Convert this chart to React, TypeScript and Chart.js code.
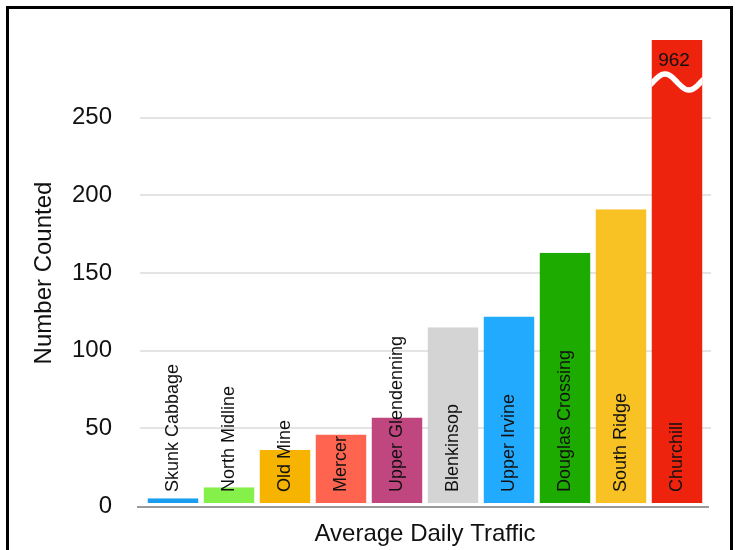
import { useEffect, useRef } from 'react';
import { Chart, registerables } from 'chart.js';

Chart.register(...registerables);

const categories = [
  'Skunk Cabbage',
  'North Midline',
  'Old Mine',
  'Mercer',
  'Upper Glendenning',
  'Blenkinsop',
  'Upper Irvine',
  'Douglas Crossing',
  'South Ridge',
  'Churchill',
];
const counts = [5, 12, 36, 46, 57, 115, 122, 163, 191, 962];
const barColors = [
  '#1a9ff0',
  '#86f04a',
  '#f6b300',
  '#fe6450',
  '#c0467f',
  '#d4d4d4',
  '#22aaff',
  '#1eab00',
  '#f8c124',
  '#ee230e',
];
const yTickValues = [0, 50, 100, 150, 200, 250];
const axisMax = 300;
const xTitle = 'Average Daily Traffic';
const yTitle = 'Number Counted';

const FONT = '"Liberation Sans", Arial, Helvetica, sans-serif';

const decorPlugin = {
  id: 'decor',
  beforeDatasetsDraw(chart: any) {
    const { ctx, chartArea, scales } = chart;
    const y = scales.y;
    ctx.save();
    ctx.strokeStyle = '#e4e4e4';
    ctx.lineWidth = 2;
    yTickValues.forEach((v) => {
      if (v === 0) return;
      const py = Math.round(y.getPixelForValue(v));
      ctx.beginPath();
      ctx.moveTo(chartArea.left - 5, py);
      ctx.lineTo(chartArea.right + 6, py);
      ctx.stroke();
    });
    ctx.restore();
  },
  afterDatasetsDraw(chart: any) {
    const { ctx, chartArea, scales } = chart;
    const y = scales.y;
    const meta = chart.getDatasetMeta(0);
    ctx.save();
    const py0 = y.getPixelForValue(0) + 1;
    ctx.strokeStyle = '#9a9a9a';
    ctx.lineWidth = 2;
    ctx.beginPath();
    ctx.moveTo(chartArea.left - 8, py0);
    ctx.lineTo(chartArea.right + 4, py0);
    ctx.stroke();

    meta.data.forEach((bar: any, i: number) => {
      if (counts[i] > axisMax) {
        const w = bar.width;
        const left = bar.x - w / 2;
        const cy = chartArea.top + 42;
        const peakX = bar.x - 12;
        ctx.save();
        ctx.beginPath();
        ctx.rect(left, chartArea.top, w, 200);
        ctx.clip();
        ctx.strokeStyle = '#ffffff';
        ctx.lineWidth = 5.5;
        ctx.beginPath();
        for (let dx = -3; dx <= w + 3; dx += 1) {
          const px = left + dx;
          const py = cy - 8 * Math.cos(((px - peakX) / 48) * 2 * Math.PI);
          if (dx === -3) ctx.moveTo(px, py);
          else ctx.lineTo(px, py);
        }
        ctx.stroke();
        ctx.restore();

        ctx.save();
        ctx.fillStyle = '#111';
        ctx.font = '19px ' + FONT;
        ctx.textAlign = 'center';
        ctx.textBaseline = 'middle';
        ctx.fillText(String(counts[i]), bar.x - 3, chartArea.top + 21);
        ctx.restore();
      }

      ctx.save();
      ctx.fillStyle = '#111';
      ctx.font = '18px ' + FONT;
      ctx.textAlign = 'left';
      ctx.textBaseline = 'middle';
      ctx.translate(bar.x, py0 - 15);
      ctx.rotate(-Math.PI / 2);
      ctx.fillText(categories[i], 0, 0);
      ctx.restore();
    });
    ctx.restore();
  },
};

export default function App() {
  const canvasRef = useRef<HTMLCanvasElement | null>(null);

  useEffect(() => {
    const canvas = canvasRef.current;
    if (!canvas) return;
    Chart.defaults.font.family = FONT;
    const chart = new Chart(canvas, {
      type: 'bar',
      data: {
        labels: categories,
        datasets: [
          {
            data: counts,
            backgroundColor: barColors,
            borderColor: '#ffffff',
            borderWidth: { top: 0, left: 0, right: 0, bottom: 3 },
            borderSkipped: false,
            inflateAmount: 0,
            categoryPercentage: 1,
            barPercentage: 0.91,
          } as any,
        ],
      },
      options: {
        responsive: false,
        animation: false,
        layout: { padding: { top: 40, right: 31, bottom: 0, left: 0 } },
        plugins: {
          legend: { display: false },
          tooltip: { enabled: false },
        },
        scales: {
          x: {
            grid: { display: false, drawTicks: false },
            border: { display: false },
            ticks: { display: false },
            title: {
              display: true,
              text: xTitle,
              color: '#111',
              font: { size: 24, family: FONT },
              padding: { top: 0, bottom: 1 },
            },
            afterFit: (scale: any) => {
              scale.height = 44;
              scale.paddingLeft = 0;
              scale.paddingRight = 0;
            },
          },
          y: {
            min: 0,
            max: axisMax,
            grid: { display: false, drawTicks: false },
            border: { display: false },
            ticks: {
              stepSize: 50,
              padding: 33,
              color: '#111',
              font: { size: 24, family: FONT },
              callback: (v: any) => (yTickValues.includes(Number(v)) ? String(v) : ''),
            },
            title: {
              display: true,
              text: yTitle,
              color: '#111',
              font: { size: 24, family: FONT },
              padding: { top: 30, bottom: 0 },
            },
            afterFit: (scale: any) => {
              scale.width = 145;
              scale.paddingTop = 0;
              scale.paddingBottom = 0;
            },
          },
        },
      },
      plugins: [decorPlugin],
    });
    return () => chart.destroy();
  }, []);

  return (
    <div style={{ position: 'fixed', left: 0, top: 0, width: 736, height: 550, background: '#fff' }}>
      <canvas
        ref={canvasRef}
        width={736}
        height={550}
        style={{ position: 'absolute', left: 0, top: 0, width: 736, height: 550 }}
      />
      <div
        style={{
          position: 'absolute',
          left: 6,
          top: 6,
          width: 727,
          height: 600,
          border: '3px solid #000',
          boxSizing: 'border-box',
          pointerEvents: 'none',
        }}
      />
    </div>
  );
}
